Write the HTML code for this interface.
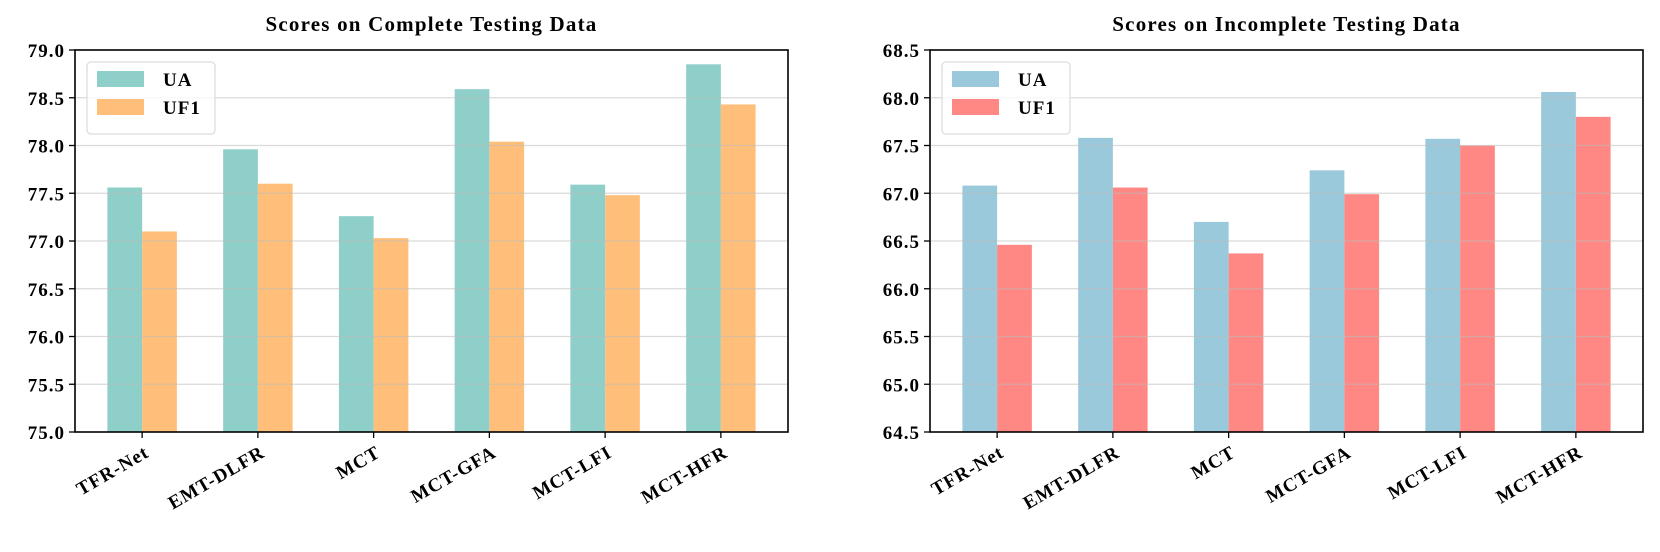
<!DOCTYPE html>
<html><head><meta charset="utf-8"><style>
body{margin:0;background:#fff;}
svg text{font-family:"Liberation Serif",serif;font-weight:bold;fill:#000;}
</style></head><body>
<svg id="c" width="1660" height="547" xmlns="http://www.w3.org/2000/svg"></svg>
<script>
const categories=["TFR-Net","EMT-DLFR","MCT","MCT-GFA","MCT-LFI","MCT-HFR"];
const leftUA=[77.56,77.96,77.26,78.59,77.59,78.85];
const leftUF1=[77.10,77.60,77.03,78.04,77.48,78.43];
const rightUA=[67.08,67.58,66.70,67.24,67.57,68.06];
const rightUF1=[66.46,67.06,66.37,66.99,67.50,67.80];
const leftTicks=[75.0,75.5,76.0,76.5,77.0,77.5,78.0,78.5,79.0];
const rightTicks=[64.5,65.0,65.5,66.0,66.5,67.0,67.5,68.0,68.5];
const svg=document.getElementById('c');
const NS="http://www.w3.org/2000/svg";
function mk(tag,attrs,parent){const e=document.createElementNS(NS,tag);for(const k in attrs)e.setAttribute(k,attrs[k]);(parent||svg).appendChild(e);return e;}
function chart(name,x0,title,ua,uf1,ticks,c1,c2){
  const g=mk('g',{});
  
  
  const W=713,top=50,bot=432,ymin=ticks[0],ymax=ticks[ticks.length-1];
  const xs=v=>x0+(v+0.58)*W/6.16;
  const ys=v=>bot-(v-ymin)/(ymax-ymin)*(bot-top);
  const bw=0.3*W/6.16;
  const t=mk('text',{x:x0+W/2,y:31,'text-anchor':'middle','font-size':21,'letter-spacing':1.2},g);t.textContent=title;
  
  
  categories.forEach((c,i)=>{
    const r1=mk('rect',{x:xs(i)-bw,y:ys(ua[i]),width:bw,height:bot-ys(ua[i]),fill:c1},g);
    
    
    const r2=mk('rect',{x:xs(i),y:ys(uf1[i]),width:bw,height:bot-ys(uf1[i]),fill:c2},g);
    
    
    mk('line',{x1:xs(i),x2:xs(i),y1:bot,y2:bot+6,stroke:'#000','stroke-width':1.3},g);
    const lx=xs(i)+8,ly=bot+24;
    const tl=mk('text',{x:lx,y:ly,'text-anchor':'end','font-size':19,'letter-spacing':1,transform:`rotate(-30 ${lx} ${ly})`},g);tl.textContent=c;
    
    
  });
  ticks.forEach(v=>{
    const y=ys(v);
    if(v!==ymin&&v!==ymax) mk('line',{x1:x0,x2:x0+W,y1:y,y2:y,stroke:'#bbb','stroke-opacity':0.55,'stroke-width':1.3},g);
    mk('line',{x1:x0-6,x2:x0,y1:y,y2:y,stroke:'#000','stroke-width':1.3},g);
    const tl=mk('text',{x:x0-10,y:y+7,'text-anchor':'end','font-size':19,'letter-spacing':1},g);tl.textContent=v.toFixed(1);
    
    
  });
  mk('rect',{x:x0,y:top,width:W,height:bot-top,fill:'none',stroke:'#000','stroke-width':1.6},g);
  const lg=mk('g',{},g);
  
  
  mk('rect',{x:x0+12,y:62,width:128,height:72,rx:4,fill:'#fff','fill-opacity':0.8,stroke:'#ddd','stroke-width':1.3},lg);
  [[c1,'UA',79],[c2,'UF1',107]].forEach(([col,lab,cy])=>{
    mk('rect',{x:x0+22,y:cy-8,width:47,height:16,fill:col},lg);
    const tt=mk('text',{x:x0+88,y:cy+7,'font-size':19,'letter-spacing':1},lg);tt.textContent=lab;
    
    
  });
}
chart('left-chart',75,'Scores on Complete Testing Data',leftUA,leftUF1,leftTicks,'#8ECFC9','#FFBE7A');
chart('right-chart',930,'Scores on Incomplete Testing Data',rightUA,rightUF1,rightTicks,'#9AC9DB','#FF8884');
</script>
</body></html>
